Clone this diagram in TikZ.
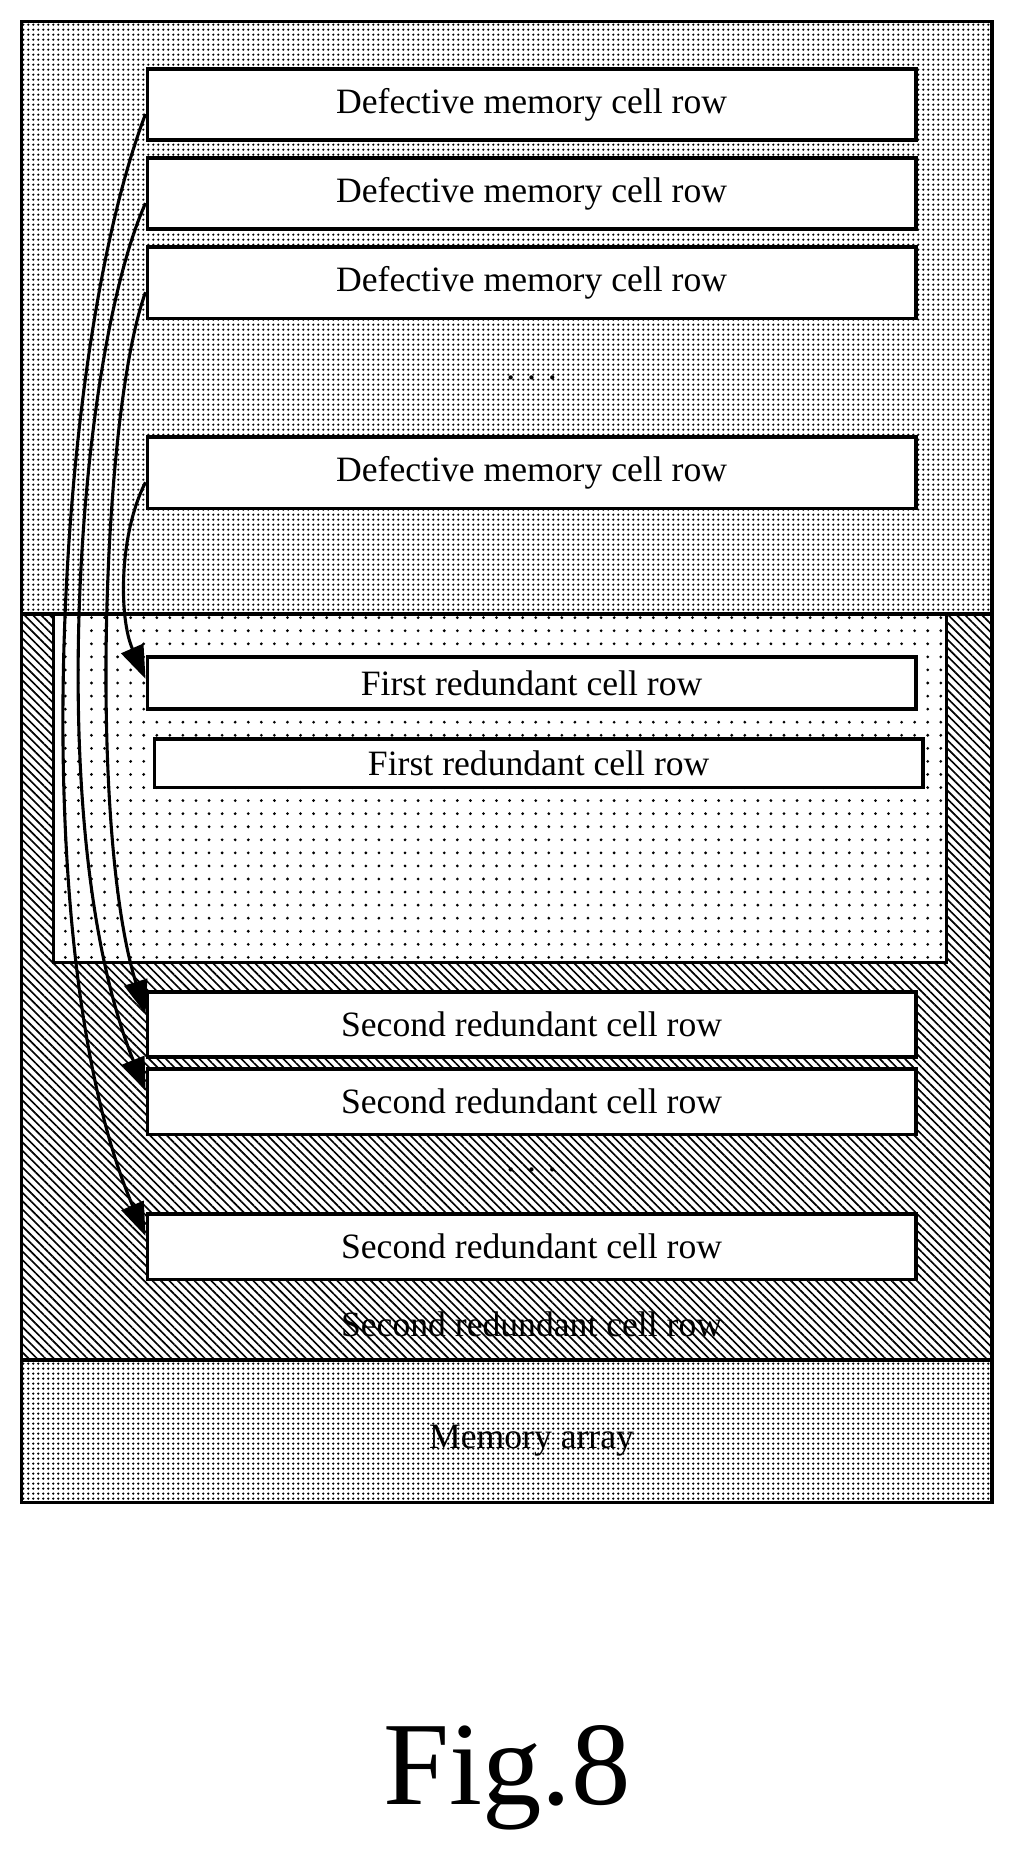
\documentclass[tikz,border=0pt]{standalone}
\usepackage{fontspec}
\setmainfont{Liberation Serif}
\usetikzlibrary{patterns.meta,arrows.meta,calc}
\begin{document}
\begin{tikzpicture}[x=1pt,y=1pt,
  row/.style={draw,line width=3pt,fill=white,minimum width=647pt,minimum height=60pt,font=\fontsize{30}{30}\selectfont,inner sep=0pt},
  srow/.style={row,minimum height=44pt},
  lbl/.style={font=\fontsize{30}{30}\selectfont},
  arr/.style={line width=2.6pt,-{Triangle[length=28pt,width=20pt]}},
  dense/.style={pattern={Dots[distance=4pt,radius=1.1pt]}},
  sparse/.style={pattern={Dots[distance=11pt,radius=1.3pt]}},
  hatch/.style={pattern={Lines[angle=-45,distance=5pt,line width=1.4pt]}}]
\useasboundingbox (0,0) rectangle (853,-1565);
% regions
\path[dense] (18,-18) rectangle (835,-517);
\path[hatch] (18,-517) rectangle (835,-1145);
\path[dense] (18,-1145) rectangle (835,-1265);
\path[fill=white] (45,-517) rectangle (797,-810);
\path[sparse] (45,-517) rectangle (797,-810);
\draw[line width=2.8pt] (45,-517) rectangle (797,-810);
\draw[line width=2.8pt] (18,-517) -- (835,-517) (18,-1145) -- (835,-1145);
\draw[line width=3pt] (18,-18) rectangle (835,-1265);
% rows
\node[row] (d1) at (447.5,-88) {Defective memory cell row};
\node[row] (d2) at (447.5,-163) {Defective memory cell row};
\node[row] (d3) at (447.5,-238) {Defective memory cell row};
\node[lbl] (dd) at (447.5,-318) {. . .};
\node[row] (d4) at (447.5,-398) {Defective memory cell row};
\node[srow] (f1) at (447.5,-575) {First redundant cell row};
\node[srow,minimum height=41pt] (f2) at (453.5,-642.5) {First redundant cell row};
\node[row,minimum height=55pt] (s1) at (447.5,-862.5) {Second redundant cell row};
\node[row,minimum height=55pt] (s2) at (447.5,-927.5) {Second redundant cell row};
\node[lbl] (sd) at (447.5,-985) {. . .};
\node[row,minimum height=55pt] (s3) at (447.5,-1049.5) {Second redundant cell row};
\node[lbl] (sl) at (447.5,-1115) {Second redundant cell row};
\node[lbl] (ma) at (447.5,-1213) {Memory array};
\node[font=\fontsize{100}{100}\selectfont] (fig) at (427,-1497) {Fig.8};
% arrows
\draw[arr] ($(d4.west)+(0,-8)$) .. controls (100,-450) and (100,-520) .. ($(f1.north west)+(0,-20)$);
\draw[arr] ($(d3.west)+(0,-8)$) .. controls (85,-350) and (75,-700) .. ($(s1.north west)+(0,-20)$);
\draw[arr] ($(d2.west)+(0,-8)$) .. controls (65,-300) and (35,-700) .. ($(s2.north west)+(0,-20)$);
\draw[arr] ($(d1.west)+(0,-8)$) .. controls (45,-300) and (20,-800) .. ($(s3.north west)+(0,-20)$);
\end{tikzpicture}
\end{document}
